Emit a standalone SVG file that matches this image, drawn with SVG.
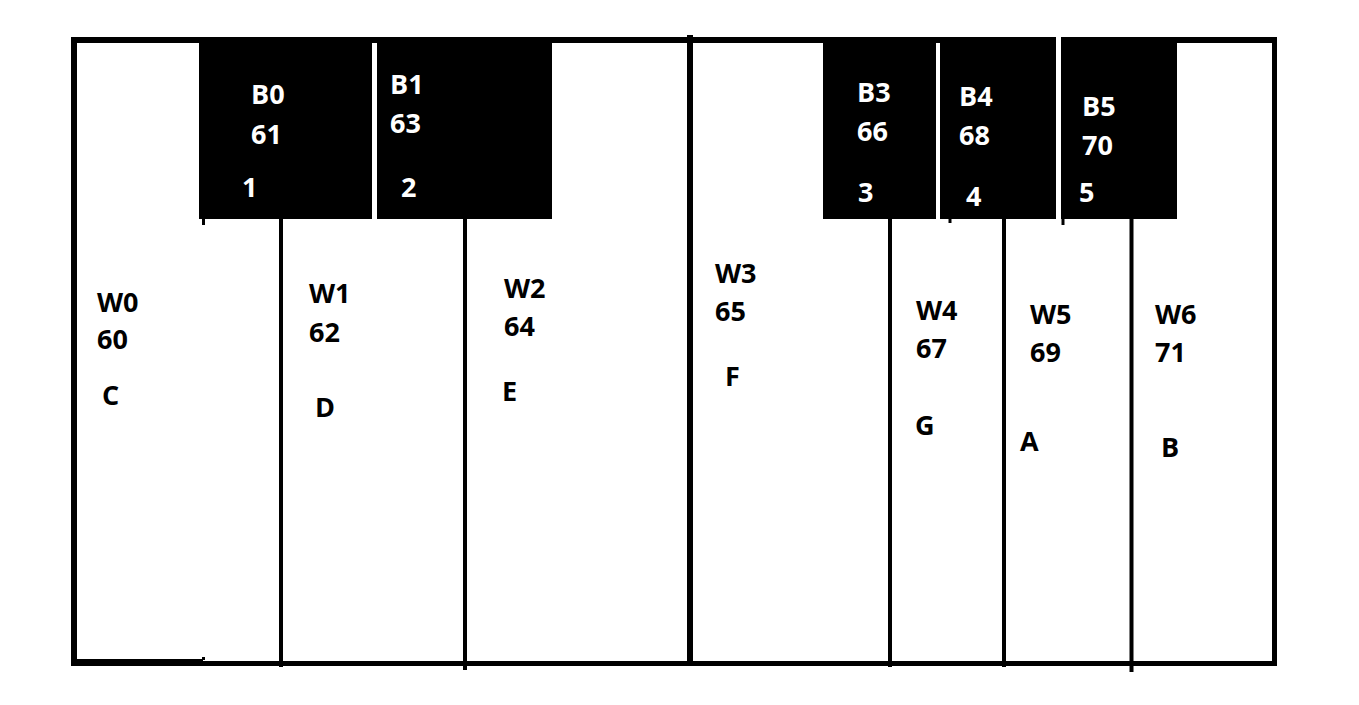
<svg xmlns="http://www.w3.org/2000/svg" width="1359" height="705" viewBox="0 0 1359 705">
  <style>
    .ln { stroke: #000; fill: none; }
    .blk { fill: #000; }
    .t { font-family: "Open Sans", "Liberation Sans", sans-serif; font-weight: 700; font-size: 27px; }
    .tw { fill: #fff; }
    .tb { fill: #000; }
  </style>
  <rect x="0" y="0" width="1359" height="705" fill="#fff"/>
  <g id="frame">
    <line class="ln" x1="71" y1="40" x2="1056" y2="40" stroke-width="6"/>
    <line class="ln" x1="1061" y1="40" x2="1277" y2="40" stroke-width="6"/>
    <line class="ln" x1="74" y1="37" x2="74" y2="666" stroke-width="6"/>
    <line class="ln" x1="1274.5" y1="37" x2="1274.5" y2="666" stroke-width="5"/>
    <line class="ln" x1="71" y1="663.5" x2="1277" y2="663.5" stroke-width="5"/>
    <rect class="blk" x="71" y="659" width="132" height="7"/>
    <rect class="blk" x="202" y="657" width="3" height="3"/>
    <line class="ln" x1="690" y1="35" x2="690" y2="666" stroke-width="6"/>
  </g>
  <g id="connectors">
    <line class="ln" x1="281" y1="219" x2="281" y2="667" stroke-width="4"/>
    <line class="ln" x1="465" y1="219" x2="465" y2="670" stroke-width="4"/>
    <line class="ln" x1="890" y1="219" x2="890" y2="667" stroke-width="4"/>
    <line class="ln" x1="1004" y1="219" x2="1004" y2="667" stroke-width="4"/>
    <line class="ln" x1="1131.5" y1="219" x2="1131.5" y2="672" stroke-width="4"/>
    <line class="ln" x1="203.5" y1="219" x2="203.5" y2="225" stroke-width="3"/>
    <line class="ln" x1="950" y1="219" x2="950" y2="223" stroke-width="3"/>
    <line class="ln" x1="1063" y1="219" x2="1063" y2="225" stroke-width="3"/>
  </g>
  <g id="B0">
    <rect class="blk" x="199" y="40" width="173" height="179"/>
    <text class="t tw" x="251" y="104">B0</text>
    <text class="t tw" x="251" y="144">61</text>
    <text class="t tw" x="242" y="197">1</text>
  </g>
  <g id="B1">
    <rect class="blk" x="377" y="40" width="175" height="179"/>
    <text class="t tw" x="390" y="94">B1</text>
    <text class="t tw" x="390" y="133">63</text>
    <text class="t tw" x="401" y="197">2</text>
  </g>
  <g id="B3">
    <rect class="blk" x="823" y="40" width="113" height="179"/>
    <text class="t tw" x="857" y="102">B3</text>
    <text class="t tw" x="857" y="141">66</text>
    <text class="t tw" x="858" y="202">3</text>
  </g>
  <g id="B4">
    <rect class="blk" x="940" y="40" width="116" height="179"/>
    <text class="t tw" x="959" y="106">B4</text>
    <text class="t tw" x="959" y="145">68</text>
    <text class="t tw" x="966" y="206">4</text>
  </g>
  <g id="B5">
    <rect class="blk" x="1061" y="37" width="116" height="182"/>
    <text class="t tw" x="1082" y="116">B5</text>
    <text class="t tw" x="1082" y="155">70</text>
    <text class="t tw" x="1079" y="202">5</text>
  </g>
  <g id="W0">
    <text class="t tb" x="97" y="312">W0</text>
    <text class="t tb" x="97" y="349">60</text>
    <text class="t tb" x="102" y="405">C</text>
  </g>
  <g id="W1">
    <text class="t tb" x="309" y="303">W1</text>
    <text class="t tb" x="309" y="342">62</text>
    <text class="t tb" x="315" y="417">D</text>
  </g>
  <g id="W2">
    <text class="t tb" x="504" y="298">W2</text>
    <text class="t tb" x="504" y="336">64</text>
    <text class="t tb" x="502" y="401">E</text>
  </g>
  <g id="W3">
    <text class="t tb" x="715" y="283">W3</text>
    <text class="t tb" x="715" y="321">65</text>
    <text class="t tb" x="725" y="386">F</text>
  </g>
  <g id="W4">
    <text class="t tb" x="916" y="320">W4</text>
    <text class="t tb" x="916" y="358">67</text>
    <text class="t tb" x="915" y="435">G</text>
  </g>
  <g id="W5">
    <text class="t tb" x="1030" y="324">W5</text>
    <text class="t tb" x="1030" y="362">69</text>
    <text class="t tb" x="1020" y="451">A</text>
  </g>
  <g id="W6">
    <text class="t tb" x="1155" y="324">W6</text>
    <text class="t tb" x="1155" y="362">71</text>
    <text class="t tb" x="1161" y="457">B</text>
  </g>
</svg>
